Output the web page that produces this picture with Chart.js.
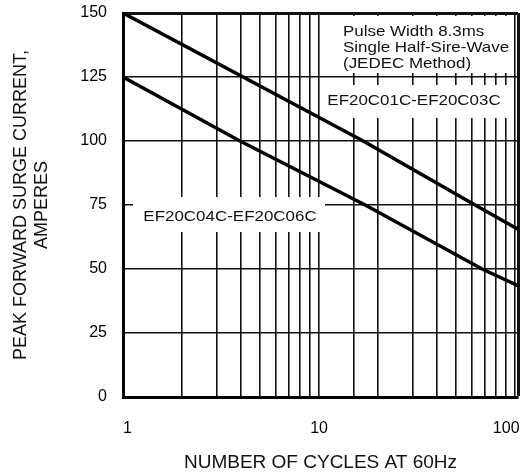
<!DOCTYPE html>
<html><head><meta charset="utf-8">
<script src="https://cdn.jsdelivr.net/npm/chart.js@4/dist/chart.umd.min.js"></script>
<style>html,body{margin:0;padding:0;background:#fff;} #wrap{width:526px;height:475px;}</style>
</head><body><div id="wrap"><canvas id="c" width="526" height="475"></canvas></div>
<script>
// ---- data ----
const upperCycles = [1, 16.8, 62.5, 103.5];
const upperAmps   = [150, 100, 75, 65.5];
const lowerCycles = [1, 3.95, 17.2, 67.9, 103.5];
const lowerAmps   = [125, 100, 75, 50, 43.5];
const xTickLabels = [1, 10, 100];
const yTickStep = 25;
const xTitle = 'NUMBER OF CYCLES AT 60Hz';
const yTitle = ['PEAK FORWARD SURGE CURRENT,', 'AMPERES'];
const noteLines = ['Pulse Width 8.3ms', 'Single Half-Sire-Wave', '(JEDEC Method)'];
const upperLabel = 'EF20C01C-EF20C03C';
const lowerLabel = 'EF20C04C-EF20C06C';

const FONT = '"Liberation Sans", Arial, Helvetica, sans-serif';
const toPoints = (xs, ys) => xs.map((x, i) => ({x: x, y: ys[i]}));

const notes = {
  id: 'notes',
  beforeDatasetsDraw(chart) {
    const ctx = chart.ctx;
    ctx.save();
    ctx.fillStyle = '#fff';
    const boxes = [[322, 16, 514, 73], [322, 85, 514, 118], [133, 197, 325, 232]];
    boxes.forEach(b => ctx.fillRect(b[0], b[1], b[2] - b[0], b[3] - b[1]));
    ctx.fillStyle = '#111';
    ctx.font = '15px ' + FONT;
    ctx.textBaseline = 'middle';
    const stretch = 1.13;
    function txt(s, x, y, align) {
      ctx.save(); ctx.translate(x, y); ctx.scale(stretch, 1);
      ctx.textAlign = align; ctx.fillText(s, 0, 0); ctx.restore();
    }
    noteLines.forEach((s, i) => txt(s, 343, 32 + 16 * i, 'left'));
    txt(upperLabel, 414, 101, 'center');
    txt(lowerLabel, 230, 217, 'center');
    ctx.restore();
  }
};

// small nudges so the end labels sit inside the canvas as in the reference
function xLabel(v) {
  const hit = xTickLabels.find(t => Math.abs(t - v) < 1e-6);
  if (hit === undefined) return '';
  if (hit === xTickLabels[0]) return '  ' + hit;
  if (hit === xTickLabels[xTickLabels.length - 1]) return hit + '    ';
  return String(hit);
}

new Chart(document.getElementById('c'), {
  type: 'line',
  data: {
    datasets: [
      {data: toPoints(upperCycles, upperAmps), borderColor: '#000', borderWidth: 3.5, pointRadius: 0, tension: 0, fill: false},
      {data: toPoints(lowerCycles, lowerAmps), borderColor: '#000', borderWidth: 3.5, pointRadius: 0, tension: 0, fill: false}
    ]
  },
  options: {
    responsive: false,
    devicePixelRatio: 1,
    animation: false,
    layout: {padding: {top: 13, right: 8, left: 0, bottom: 0}},
    plugins: {legend: {display: false}, tooltip: {enabled: false}},
    scales: {
      x: {
        type: 'logarithmic', min: 1, max: 103.5,
        grid: {color: '#111', drawTicks: false,
               lineWidth: c => (c.tick && c.tick.value >= 103) ? 3 : 1.6},
        border: {display: true, color: '#000', width: 3},
        ticks: {autoSkip: false, maxRotation: 0, minRotation: 0, padding: 22, color: '#000',
                font: {family: FONT, size: 16}, callback: xLabel},
        title: {display: true, text: xTitle, color: '#111', font: {family: FONT, size: 19}, padding: {top: 0, bottom: 1}},
        afterFit(s) { s.height = 78; s.paddingLeft = 0; s.paddingRight = 0; }
      },
      y: {
        type: 'linear', min: 0, max: 150,
        grid: {color: '#111', drawTicks: false,
               lineWidth: c => (c.tick && c.tick.value >= 150) ? 3 : 1.6},
        border: {display: true, color: '#000', width: 3},
        ticks: {stepSize: yTickStep, padding: 16, color: '#000', font: {family: FONT, size: 16}},
        title: {display: true, text: yTitle, color: '#111', font: {family: FONT, size: 18, lineHeight: 1.2}, padding: {top: 10, bottom: 0}},
        afterFit(s) { s.width = 123; s.paddingTop = 0; s.paddingBottom = 0; }
      }
    }
  },
  plugins: [notes]
});
</script>
</body></html>
